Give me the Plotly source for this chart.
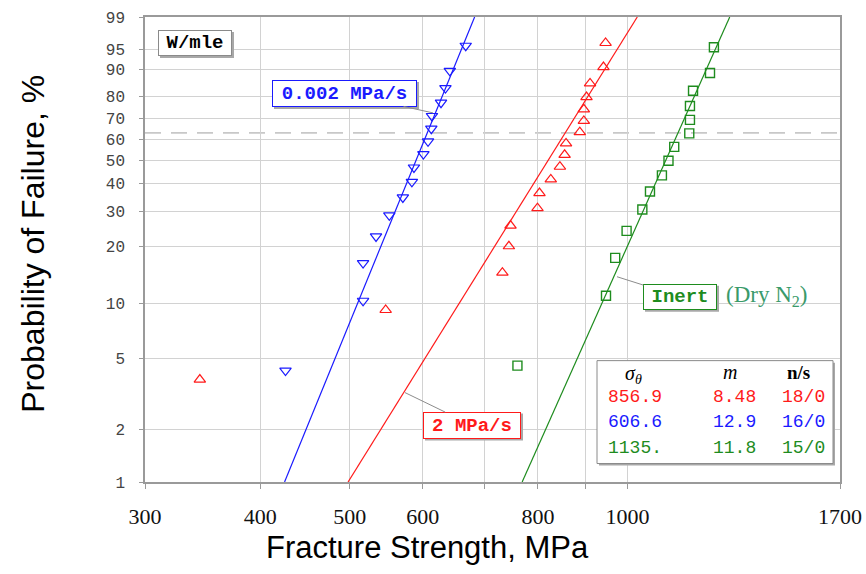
import math
import plotly.graph_objects as go

# ---------------- data ----------------
blue_strength = [426, 517, 517, 534, 552, 571, 584, 587, 601, 608, 613, 614, 628, 635, 642, 668]
blue_F = [4.27, 10.37, 16.46, 22.56, 28.66, 34.76, 40.85, 46.95, 53.05, 59.15, 65.24, 71.34, 77.44, 83.54, 89.63, 95.73]

red_strength = [344, 547, 732, 744, 747, 799, 803, 826, 845, 855, 858, 888, 897, 897, 903, 911, 942, 947]
red_F = [3.80, 9.24, 14.67, 20.11, 25.54, 30.98, 36.41, 41.85, 47.28, 52.72, 58.15, 63.59, 69.02, 74.46, 79.89, 85.33, 90.76, 96.20]

green_strength = [760, 948, 970, 998, 1038, 1058, 1090, 1108, 1124, 1167, 1169, 1169, 1178, 1229, 1241]
green_F = [4.55, 11.04, 17.53, 24.03, 30.52, 37.01, 43.51, 50.00, 56.49, 62.99, 69.48, 75.97, 82.47, 88.96, 95.45]

# fitted Weibull lines: end points at F = 1 % and 99 %
fit_F = [1, 99]
blue_fit_x = [425, 683]
red_fit_x = [498, 1025]
green_fit_x = [769, 1291]

x_ticks = [300, 400, 500, 600, 800, 1000, 1700]
x_minor_grid = [700, 900]
y_ticks = [1, 2, 5, 10, 20, 30, 40, 50, 60, 70, 80, 90, 95, 99]

table_sigma = ["856.9", "606.6", "1135."]
table_m = ["8.48", "12.9", "11.8"]
table_ns = ["18/0", "16/0", "15/0"]

RED = "#ff1a1a"
BLUE = "#1a1aff"
GREEN = "#1e8c1e"
row_colors = [RED, BLUE, GREEN]


def weib(F):
    """Weibull probability scale transform."""
    return math.log(-math.log(1 - F / 100.0))


def wl(vals):
    return [weib(v) for v in vals]


# ---------------- figure ----------------
fig = go.Figure()

for xs, col in [(blue_fit_x, BLUE), (red_fit_x, RED), (green_fit_x, GREEN)]:
    fig.add_trace(go.Scatter(x=xs, y=wl(fit_F), mode="lines",
                             line=dict(color=col, width=1.2), hoverinfo="skip"))

fig.add_trace(go.Scatter(x=blue_strength, y=wl(blue_F), mode="markers",
                         marker=dict(symbol="triangle-down-open", size=10,
                                     color=BLUE, line=dict(width=1.2))))
fig.add_trace(go.Scatter(x=red_strength, y=wl(red_F), mode="markers",
                         marker=dict(symbol="triangle-up-open", size=10,
                                     color=RED, line=dict(width=1.2))))
fig.add_trace(go.Scatter(x=green_strength, y=wl(green_F), mode="markers",
                         marker=dict(symbol="square-open", size=9,
                                     color=GREEN, line=dict(width=1.4))))

# plot-area pixel geometry
L, R, T, B = 145, 840, 17, 482.5
W, H = 866, 574


def px(x):
    return (x - L) / (R - L)


def py(y):
    return (B - y) / (B - T)


GRID = "#d2d2d2"
AX = "#9a9a9a"

fig.update_layout(
    width=W, height=H,
    margin=dict(l=L, r=W - R, t=T, b=H - B, autoexpand=False),
    paper_bgcolor="white", plot_bgcolor="white",
    showlegend=False,
    xaxis=dict(type="log", range=[math.log10(300), math.log10(1700)],
               tickmode="array", tickvals=x_ticks, ticktext=[str(v) for v in x_ticks],
               automargin=False,
               showgrid=True, gridcolor=GRID, gridwidth=1,
               minor=dict(tickmode="array", tickvals=x_minor_grid, showgrid=True,
                          gridcolor=GRID, gridwidth=1, ticks="outside", ticklen=5,
                          tickcolor=AX),
               showline=True, linecolor=AX, linewidth=1.5, mirror=True,
               ticks="outside", ticklen=5, tickcolor=AX,
               ticklabelstandoff=9,
               tickfont=dict(family="Liberation Serif, Times New Roman, serif",
                             size=22, color="#111111"),
               zeroline=False),
    yaxis=dict(range=[weib(1), weib(99)],
               tickmode="array", tickvals=wl(y_ticks), ticktext=[str(v) for v in y_ticks],
               automargin=False,
               showgrid=True, gridcolor=GRID, gridwidth=1,
               showline=True, linecolor=AX, linewidth=1.5, mirror=True,
               ticks="outside", ticklen=4, tickcolor=AX,
               ticklabelstandoff=11,
               tickfont=dict(family="Liberation Mono, Courier New, monospace",
                             size=16, color="#444444"),
               zeroline=False),
)

# 63.2 % dashed line
fig.add_shape(type="line", xref="paper", x0=0, x1=1, yref="y", y0=0, y1=0,
              line=dict(color="#c8c8c8", width=1.6, dash="16px,10px"), layer="below")

MONO = "Liberation Mono, Courier New, monospace"
SERIF = "Liberation Serif, Times New Roman, serif"
SANS = "Liberation Sans Narrow, Arial Narrow, Liberation Sans, Arial, sans-serif"

annotations = []

# axis titles
annotations.append(dict(text="Fracture Strength, MPa", xref="paper", yref="paper",
                        x=px(427), y=py(548), xanchor="center", yanchor="middle",
                        showarrow=False, font=dict(family=SANS, size=31, color="#000")))
annotations.append(dict(text="Probability of Failure, %", xref="paper", yref="paper",
                        x=px(33), y=py(244), xanchor="center", yanchor="middle",
                        textangle=-90, showarrow=False,
                        font=dict(family=SANS, size=32, color="#000")))


def shadow(x0, y0, x1, y1, d=2):
    fig.add_shape(type="rect", xref="paper", yref="paper",
                  x0=px(x0 + d), x1=px(x1 + d), y0=py(y0 + d), y1=py(y1 + d),
                  fillcolor="#a8a8a8", line=dict(width=0), layer="above")


# W/mle box
shadow(158, 30, 232, 56)
annotations.append(dict(text="<b>W/mle</b>", xref="paper", yref="paper",
                        x=px(195), y=py(43), xanchor="center", yanchor="middle",
                        width=68, height=20, borderpad=2, showarrow=False,
                        bgcolor="white", bordercolor="#8a8a8a", borderwidth=1,
                        font=dict(family=MONO, size=19, color="#000")))

# label boxes with leader lines
labels = [
    ("<b>0.002 MPa/s</b>", BLUE, (272, 80, 417, 107), (433, 113)),
    ("<b>2 MPa/s</b>", RED, (423, 412, 521, 439), (405, 393)),
    ("<b>Inert</b>", GREEN, (643, 284, 717, 310), (617, 277)),
]
for txt, col, (x0, y0, x1, y1), (tx, ty) in labels:
    shadow(x0, y0, x1, y1)
    cx, cy = (x0 + x1) / 2, (y0 + y1) / 2
    annotations.append(dict(text=txt, xref="paper", yref="paper",
                            x=px(tx), y=py(ty), ax=cx - tx, ay=cy - ty,
                            showarrow=True, arrowhead=0, arrowwidth=1,
                            arrowcolor="#8c8c8c",
                            width=x1 - x0 - 6, height=y1 - y0 - 6, borderpad=2,
                            bgcolor="white", bordercolor=col, borderwidth=1,
                            font=dict(family=MONO, size=19, color=col)))

annotations.append(dict(text="(Dry N<sub>2</sub>)", xref="paper", yref="paper",
                        x=px(724), y=py(296), xanchor="left", yanchor="middle",
                        showarrow=False,
                        font=dict(family=SERIF, size=23, color="#3a9a6a")))

# statistics table
shadow(597, 361, 833, 464)
fig.add_shape(type="rect", xref="paper", yref="paper",
              x0=px(597), x1=px(833), y0=py(361), y1=py(464),
              fillcolor="white", line=dict(color="#8a8a8a", width=1), layer="above")

annotations.append(dict(text="<i>σ</i><sub><i>θ</i></sub>", xref="paper", yref="paper",
                        x=px(633), y=py(375), xanchor="center", yanchor="middle",
                        showarrow=False, font=dict(family=SERIF, size=20, color="#000")))
annotations.append(dict(text="<i>m</i>", xref="paper", yref="paper",
                        x=px(730), y=py(372), xanchor="center", yanchor="middle",
                        showarrow=False, font=dict(family=SERIF, size=20, color="#000")))
annotations.append(dict(text="<b>n/s</b>", xref="paper", yref="paper",
                        x=px(798), y=py(373), xanchor="center", yanchor="middle",
                        showarrow=False, font=dict(family=SERIF, size=19, color="#000")))

row_y = [397, 422.5, 448]
for i in range(3):
    col = row_colors[i]
    for txt, xl in [(table_sigma[i], 606), (table_m[i], 711), (table_ns[i], 780)]:
        annotations.append(dict(text=txt, xref="paper", yref="paper",
                                x=px(xl), y=py(row_y[i]), xanchor="left", yanchor="middle",
                                showarrow=False,
                                font=dict(family=MONO, size=18, color=col)))

fig.update_layout(annotations=annotations)

fig.write_html("out.html")
